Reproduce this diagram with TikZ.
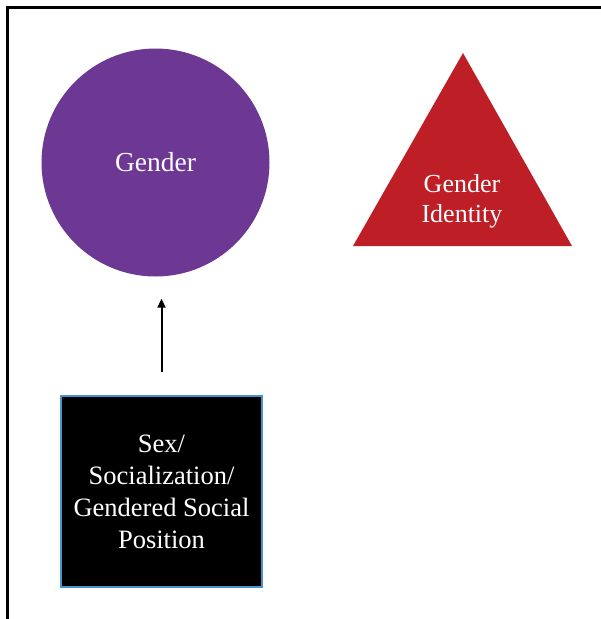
\documentclass[tikz,border=0pt]{standalone}
\usepackage{fontspec}
\setmainfont{Liberation Serif}
\usetikzlibrary{arrows.meta}

\definecolor{genderpurple}{RGB}{108,56,148}
\definecolor{identityred}{RGB}{190,30,38}
\definecolor{boxblue}{RGB}{70,150,205}

\tikzset{concept circle/.style={circle,fill=genderpurple,minimum size=228pt,inner sep=0pt,text=white,font=\fontsize{27.5}{30}\selectfont},
concept triangle/.style={fill=identityred},
triangle label/.style={text=white,align=center,font=\fontsize{26}{30}\selectfont,inner sep=0pt},
source box/.style={fill=black,draw=boxblue,line width=1.8pt,minimum width=201pt,minimum height=191pt,inner sep=0pt,text=white,align=center,font=\fontsize{26.5}{32}\selectfont},
frame/.style={line width=3pt,line cap=rect},
cause/.style={line width=2pt,-{Triangle[length=9pt,width=8pt]}}}

\begin{document}
\begin{tikzpicture}[x=1pt,y=-1pt]
\useasboundingbox (0,0) rectangle (601,619);

%% outer frame (cut by the page on the right and bottom)
\coordinate (f1) at (601,7.5);
\coordinate (f2) at (7.5,7.5);
\coordinate (f3) at (7.5,619);
\draw [frame] (f1) -- (f2) -- (f3);

%% gender
\node [concept circle] (gender) at (155.5,162.5) {Gender};

%% gender identity
\coordinate (t1) at (463,53);
\coordinate (t2) at (572,246);
\coordinate (t3) at (353,246);
\fill [concept triangle] (t1) -- (t2) -- (t3) -- cycle;
\node [triangle label] (identity) at (462,201) {Gender\\Identity};

%% sex / socialization
\node [source box] (sex) at (161.5,491.5) {Sex/\\Socialization/\\Gendered Social\\Position};

%% arrow
\draw [cause,shorten <=23pt,shorten >=22pt] (sex.north) -- (sex.north |- gender.south);

\end{tikzpicture}
\end{document}
